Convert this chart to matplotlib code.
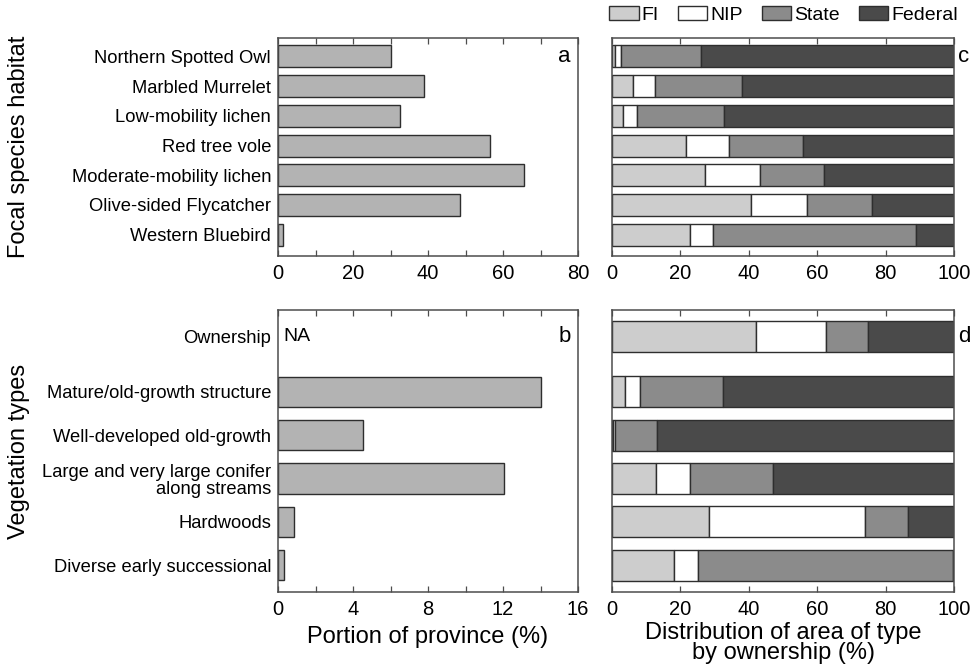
import numpy as np
import matplotlib
matplotlib.use("Agg")
import matplotlib.pyplot as plt
from matplotlib.patches import Patch

plt.rcParams['font.family'] = ['Liberation Sans', 'DejaVu Sans']

# ---------- dados ----------
especies = ["Northern Spotted Owl", "Marbled Murrelet", "Low-mobility lichen",
            "Red tree vole", "Moderate-mobility lichen", "Olive-sided Flycatcher",
            "Western Bluebird"]
especies_pct = [30.0, 39.0, 32.6, 56.5, 65.5, 48.6, 1.2]

vegetacao = ["Ownership", "Mature/old-growth structure", "Well-developed old-growth",
             "Large and very large conifer\nalong streams", "Hardwoods",
             "Diverse early successional"]
vegetacao_pct = [np.nan, 14.0, 4.55, 12.05, 0.85, 0.3]

# distribuição por proprietário (%), mesma ordem das categorias
esp_fi = [1.0, 6.1, 3.2, 21.7, 27.3, 40.7, 22.9]
esp_nip = [1.5, 6.6, 4.1, 12.5, 16.0, 16.3, 6.6]
esp_state = [23.6, 25.3, 25.4, 21.6, 18.6, 19.0, 59.3]
esp_fed = [73.9, 62.0, 67.3, 44.2, 38.1, 24.0, 11.2]

veg_fi = [42.0, 3.9, 0.3, 12.8, 28.5, 18.0]
veg_nip = [20.7, 4.3, 0.7, 9.9, 45.6, 7.0]
veg_state = [12.2, 24.2, 12.1, 24.3, 12.4, 74.7]
veg_fed = [25.1, 67.6, 86.9, 53.0, 13.5, 0.3]

donos = ["FI", "NIP", "State", "Federal"]
cores = ["#cdcdcd", "#ffffff", "#8b8b8b", "#4a4a4a"]
cor_barra = "#b3b3b3"
borda = "#2e2e2e"
quadro = "#4d4d4d"

# posições verticais
pos_esp = np.arange(len(especies))[::-1].astype(float)
pos_veg = np.arange(len(vegetacao))[::-1].astype(float)
pos_veg[0] = pos_veg[1] + 1.27

fig = plt.figure(figsize=(9.72, 6.71), dpi=100)
W, H = 972, 671


def eixo(l, t, r, b):
    return fig.add_axes([l / W, 1 - b / H, (r - l) / W, (b - t) / H])


ax_a = eixo(278, 38, 578, 256)
ax_b = eixo(278, 310, 578, 592)
ax_c = eixo(612, 38, 954, 256)
ax_d = eixo(612, 310, 954, 592)


def estilo(ax, xmax, passo, rotulo):
    ax.set_xlim(0, xmax)
    ticks = np.arange(0, xmax + 0.001, passo)
    ax.set_xticks(ticks)
    ax.set_xticklabels([f"{t:g}" if (t % rotulo == 0) else "" for t in ticks])
    ax.tick_params(axis='x', direction='in', top=True, length=4, width=0.9,
                   color=quadro, labelsize=14.5, pad=6)
    ax.tick_params(axis='y', length=0, labelsize=13.2, pad=5)
    for s in ax.spines.values():
        s.set_color(quadro)
        s.set_linewidth(1.1)


# ---------- a ----------
ax_a.barh(pos_esp, especies_pct, height=0.74, color=cor_barra, edgecolor=borda, linewidth=1)
ax_a.set_ylim(-0.72, 6.62)
ax_a.set_yticks(pos_esp)
ax_a.set_yticklabels(especies)
estilo(ax_a, 80, 10, 20)
ax_a.text(0.955, 0.915, "a", transform=ax_a.transAxes, fontsize=16, ha='center', va='center')

# ---------- b ----------
ax_b.barh(pos_veg[1:], vegetacao_pct[1:], height=0.7, color=cor_barra, edgecolor=borda, linewidth=1)
ax_b.set_ylim(-0.62, pos_veg[0] + 0.62)
ax_b.set_yticks(pos_veg)
ax_b.set_yticklabels(vegetacao, linespacing=1.05)
estilo(ax_b, 16, 2, 4)
ax_b.text(0.3, pos_veg[0], "NA", fontsize=14, ha='left', va='center')
ax_b.text(0.955, 0.905, "b", transform=ax_b.transAxes, fontsize=16, ha='center', va='center')

# ---------- c e d ----------
for ax, pos, series, alt in [(ax_c, pos_esp, [esp_fi, esp_nip, esp_state, esp_fed], 0.74),
                             (ax_d, pos_veg, [veg_fi, veg_nip, veg_state, veg_fed], 0.72)]:
    esquerda = np.zeros(len(pos))
    for vals, cor in zip(series, cores):
        ax.barh(pos, vals, left=esquerda, height=alt, color=cor, edgecolor=borda, linewidth=1)
        esquerda += np.array(vals)
    estilo(ax, 100, 20, 20)
    ax.set_yticks([])

ax_c.set_ylim(-0.72, 6.62)
ax_d.set_ylim(-0.62, pos_veg[0] + 0.62)
ax_c.text(1.012, 0.915, "c", transform=ax_c.transAxes, fontsize=16, ha='left', va='center')
ax_d.text(1.012, 0.905, "d", transform=ax_d.transAxes, fontsize=16, ha='left', va='center')

# ---------- legenda ----------
handles = [Patch(facecolor=c, edgecolor=borda, linewidth=1) for c in cores]
fig.legend(handles, donos, loc='center right', bbox_to_anchor=(958 / W, 1 - 15 / H),
           ncol=4, frameon=False, fontsize=14, handlelength=1.5, handleheight=0.75,
           handletextpad=0.15, columnspacing=1.0, borderaxespad=0, borderpad=0)

# ---------- rótulos ----------
fig.text(19 / W, 1 - 147 / H, "Focal species habitat", rotation=90, fontsize=17,
         ha='center', va='center')
fig.text(19 / W, 1 - 451 / H, "Vegetation types", rotation=90, fontsize=17,
         ha='center', va='center')
fig.text(428 / W, 1 - 637 / H, "Portion of province (%)", fontsize=17, ha='center', va='center')
fig.text(783 / W, 1 - 643 / H, "Distribution of area of type\nby ownership (%)", fontsize=17,
         ha='center', va='center', linespacing=0.88)

fig.savefig("out.png", dpi=100)
